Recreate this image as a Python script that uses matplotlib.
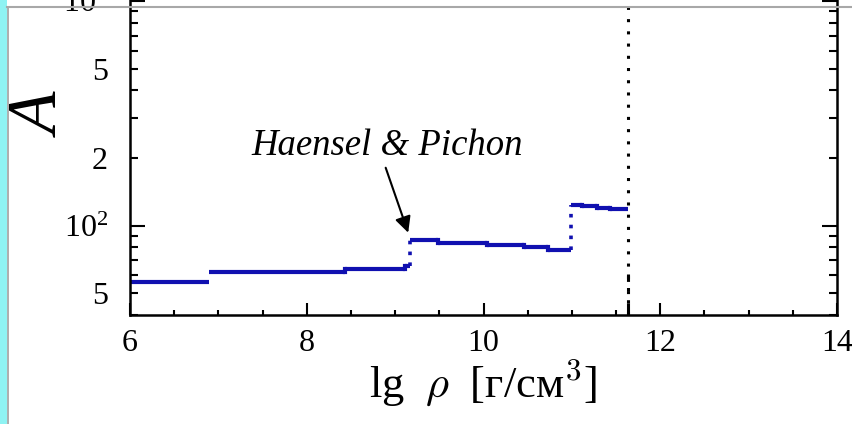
import matplotlib
matplotlib.use('Agg')
import matplotlib.pyplot as plt
import matplotlib.ticker as mticker
from matplotlib.lines import Line2D
from matplotlib.patches import Rectangle
import numpy as np

# composition of the outer crust (Haensel & Pichon), step by step
lg_rho_edges = [6.0, 6.89, 8.43, 9.11, 9.17, 9.49, 10.04, 10.46, 10.73, 10.99, 11.11, 11.28, 11.43, 11.63]
A_values = [56, 62, 64, 66, 86, 84, 82, 80, 78, 124, 122, 120, 118]

lg_rho_drip = 11.63
drip_tail_A = [40, 61]

x_major = [6, 8, 10, 12, 14]
x_minor = list(np.arange(6.5, 14, 0.5))
y_major = [100, 1000]
y_major_labels = [r'$10^2$', r'$10^3$']
y_minor = [40, 50, 60, 70, 80, 90, 200, 300, 400, 500, 600, 700, 800, 900, 2000]
y_minor_labels = ['', '5', '', '', '', '', '2', '', '', '5', '', '', '', '', '']

plt.rcParams['font.family'] = ['Liberation Serif', 'DejaVu Serif']
plt.rcParams['mathtext.fontset'] = 'custom'
plt.rcParams['mathtext.rm'] = 'Liberation Serif'
plt.rcParams['mathtext.it'] = 'Liberation Serif:italic'

blue = '#1010b0'

fig = plt.figure(figsize=(8.52, 4.24), dpi=100)
fig.patch.set_facecolor('white')
ax = fig.add_axes([0.1526, 0.2571, 0.8298, 0.900])

# horizontal plateaus
for i, a in enumerate(A_values):
    ax.plot([lg_rho_edges[i], lg_rho_edges[i + 1]], [a, a], color=blue, lw=3.0,
            solid_capstyle='butt')
    if i > 0:
        prev = A_values[i - 1]
        ratio = max(a, prev) / min(a, prev)
        if ratio > 1.2:
            ax.plot([lg_rho_edges[i], lg_rho_edges[i]], [prev, a], color=blue,
                    lw=2.6, ls=(0, (1, 2)))
        elif ratio < 1.05:
            ax.plot([lg_rho_edges[i], lg_rho_edges[i]], [prev, a], color=blue, lw=3.0)

# neutron drip
ax.axvline(lg_rho_drip, color='k', lw=2.2, ls=(0, (1, 3)))
ax.plot([lg_rho_drip, lg_rho_drip], drip_tail_A, color='k', lw=2.2, ls=(0, (4, 3, 1, 3)))

ax.text(8.91, 207, 'Haensel & Pichon', fontsize=26.5, style='italic', ha='center', va='baseline')
ax.annotate('', xy=(9.148, 93), xytext=(8.893, 181),
            arrowprops=dict(arrowstyle='-|>', color='k', lw=1.5, mutation_scale=24,
                            shrinkA=0, shrinkB=0))

ax.set_xlim(6, 14)
ax.set_yscale('log')
ax.set_ylim(40, 2000)

ax.xaxis.set_major_locator(mticker.FixedLocator(x_major))
ax.xaxis.set_minor_locator(mticker.FixedLocator(x_minor))
ax.yaxis.set_major_locator(mticker.FixedLocator(y_major))
ax.yaxis.set_major_formatter(mticker.FixedFormatter(y_major_labels))
ax.yaxis.set_minor_locator(mticker.FixedLocator(y_minor))
ax.yaxis.set_minor_formatter(mticker.FixedFormatter(y_minor_labels))

ax.tick_params(which='both', direction='in', top=True, right=True, width=1.5, labelsize=23)
ax.tick_params(axis='x', which='major', length=8.5, pad=10)
ax.tick_params(axis='x', which='minor', length=3.8)
ax.tick_params(axis='y', which='major', length=10.5, pad=16)
ax.tick_params(axis='y', which='minor', length=5.5, pad=16)
for s in ax.spines.values():
    s.set_linewidth(1.8)

ax.set_xlabel(r'lg$\;\;\rho\;\;$[г/см$^3$]', fontsize=32, labelpad=0, math_fontfamily='cm')
fig.text(43 / 852, 1 - 116 / 424, 'A', fontsize=50, style='italic', rotation=90,
         ha='center', va='center')

# slide decorations: cyan strip on the left, grey rule on top
fig.add_artist(Rectangle((0, 0), 7 / 852, 1, transform=fig.transFigure,
                         facecolor='#8ff3f3', edgecolor='none'))
fig.add_artist(Line2D([7.5 / 852, 7.5 / 852], [0, 1 - 7 / 424], transform=fig.transFigure,
                      color='#a0a0a0', lw=1.2))
fig.add_artist(Line2D([7 / 852, 1], [1 - 7 / 424, 1 - 7 / 424], transform=fig.transFigure,
                      color='#a8a8a8', lw=1.5))

fig.savefig('out.png', dpi=100)
